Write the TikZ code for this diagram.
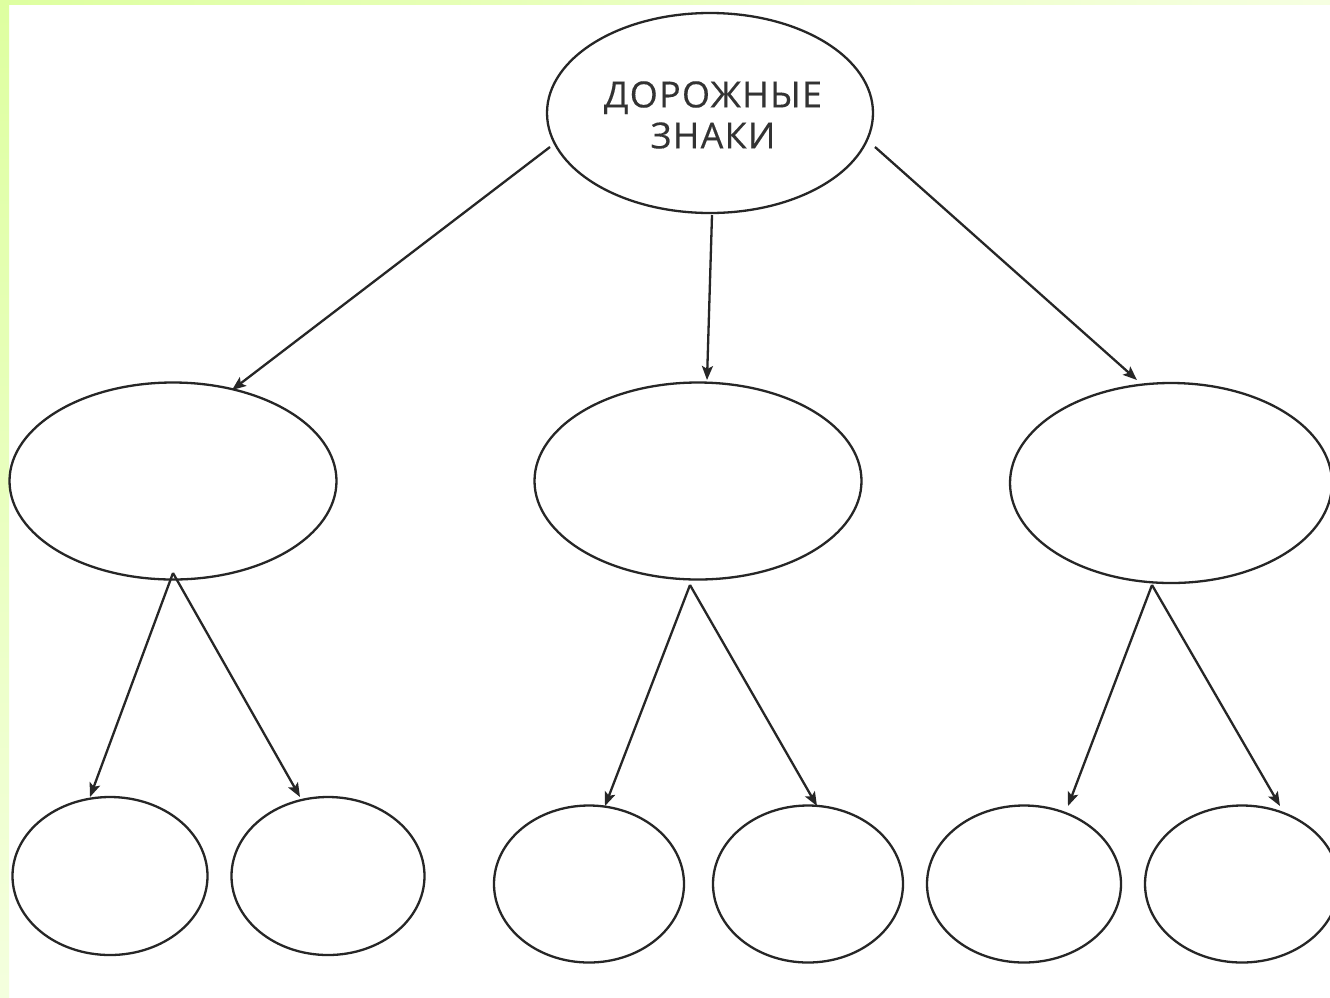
\documentclass[tikz,border=0pt]{standalone}
\usepackage{fontspec}
\setmainfont{Open Sans}
\usetikzlibrary{shapes.geometric,arrows.meta}
\begin{document}
\begin{tikzpicture}[x=1pt,y=-1pt,
  bubble/.style={draw=black!85,line width=2.3pt,ellipse,inner sep=0pt,
    minimum width=#1},
  link/.style={draw=black!85,line width=2.3pt,
    -{Stealth[length=14pt,width=11pt,inset=3pt]}},
  title/.style={font=\fontsize{36}{41}\selectfont\addfontfeatures{LetterSpace=3.5,FakeBold=0.3},
    text=black!80,align=center}
]
% page and frame strips
\useasboundingbox (0,0) rectangle (1330,997);
\fill[white] (0,0) rectangle (1330,997);
\shade[left color={rgb,255:red,222;green,255;blue,160},right color={rgb,255:red,246;green,255;blue,225}]
  (0,0) rectangle (1330,4);
\shade[top color={rgb,255:red,222;green,255;blue,160},bottom color={rgb,255:red,244;green,255;blue,222}]
  (0,0) rectangle (9,997);

% top level
\node[bubble=326pt,minimum height=200pt] (root) at (710,113) {};
\node[title] (rootlbl) at (713,115) {ДОРОЖНЫЕ\\ЗНАКИ};

% second level
\node[bubble=327pt,minimum height=197pt] (m1) at (173,481) {};
\node[bubble=327pt,minimum height=197pt] (m2) at (698,481) {};
\node[bubble=322pt,minimum height=200pt] (m3) at (1171,483) {};

% third level
\node[bubble=195pt,minimum height=158pt] (b1) at (110,876) {};
\node[bubble=193pt,minimum height=158pt] (b2) at (328,876) {};
\node[bubble=190pt,minimum height=157pt] (b3) at (589,884) {};
\node[bubble=190pt,minimum height=157pt] (b4) at (808,884) {};
\node[bubble=194pt,minimum height=157pt] (b5) at (1024,884) {};
\node[bubble=194pt,minimum height=157pt] (b6) at (1242,884) {};

% connectors from the root
\draw[link] ([shift={(-160,34)}]root.center) -- ([shift={(59,-91)}]m1.center);
\draw[link] ([shift={(2,102)}]root.center) -- ([shift={(9,-101)}]m2.center);
\draw[link] ([shift={(165,34)}]root.center) -- ([shift={(-34,-103)}]m3.center);

% connectors to the third level
\draw[link] ([shift={(0,92)}]m1.center) -- ([shift={(-20,-79)}]b1.center);
\draw[link] ([shift={(0,92)}]m1.center) -- ([shift={(-28,-79)}]b2.center);
\draw[link] ([shift={(-8,104)}]m2.center) -- ([shift={(16,-78)}]b3.center);
\draw[link] ([shift={(-8,104)}]m2.center) -- ([shift={(9,-78)}]b4.center);
\draw[link] ([shift={(-19,102)}]m3.center) -- ([shift={(44,-78)}]b5.center);
\draw[link] ([shift={(-19,102)}]m3.center) -- ([shift={(38,-78)}]b6.center);
\end{tikzpicture}
\end{document}
